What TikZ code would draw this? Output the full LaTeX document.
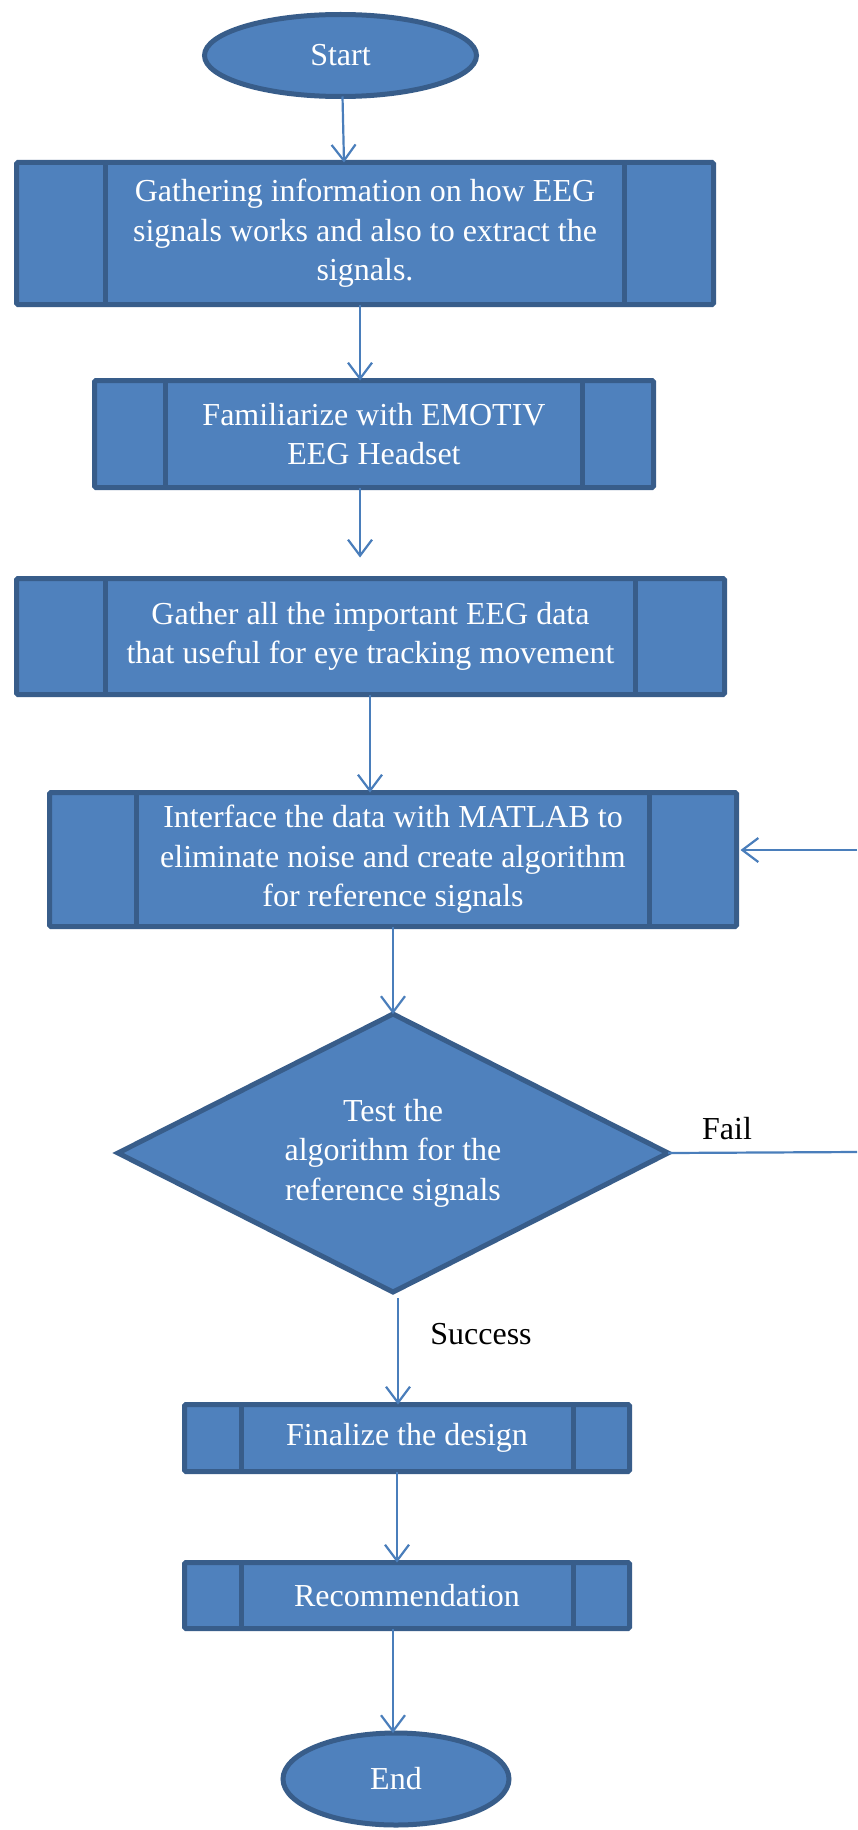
\documentclass[tikz,border=0pt]{standalone}
\usepackage{fontspec}
\setmainfont{Liberation Serif}
\usetikzlibrary{shapes.geometric,arrows.meta}
\definecolor{boxfill}{HTML}{4F81BD}
\definecolor{boxline}{HTML}{385D8A}
\definecolor{flowline}{HTML}{4A7EBB}
\tikzset{
  border/.style={draw=boxline, line width=5pt},
  procbox/.style={border, fill=boxfill, rectangle, rounded corners=1.5pt, outer sep=0pt,
    inner sep=0pt, align=center, text=white, font=\fontsize{32}{39.5}\selectfont},
  termbox/.style={border, fill=boxfill, ellipse, outer sep=0pt, inner sep=0pt,
    text=white, font=\fontsize{32}{39.5}\selectfont},
  decbox/.style={border, fill=boxfill, diamond, aspect=1.95, outer sep=0pt, inner sep=0pt,
    align=center, text=white, font=\fontsize{32}{39.5}\selectfont},
  flow/.style={draw=flowline, line width=2.2pt,
    -{Straight Barb[length=16pt, width=24pt, line width=2.2pt]}},
  plainflow/.style={draw=flowline, line width=2.2pt},
  tag/.style={text=black, font=\fontsize{32}{39.5}\selectfont}
}
% inner vertical bars of a predefined-process box
\newcommand\sidebars[2]{%
  \draw[border] ([xshift=#2]#1.north west) -- ([xshift=#2]#1.south west)
                ([xshift=-#2]#1.north east) -- ([xshift=-#2]#1.south east);}
\begin{document}
\begin{tikzpicture}[x=1pt,y=-1pt]
\useasboundingbox[fill=white] (0,0) rectangle (857,1830);

\node[termbox, minimum width=272, minimum height=82] (start) at (340.5,55.5) {Start};

\node[procbox, minimum width=697, minimum height=142] (b1) at (365,233.5)
  {Gathering information on how EEG\\signals works and also to extract the\\signals.};
\sidebars{b1}{89}

\node[procbox, minimum width=559, minimum height=107] (b2) at (374,434)
  {Familiarize with EMOTIV\\EEG Headset};
\sidebars{b2}{71}

\node[procbox, minimum width=708, minimum height=116] (b3) at (370.5,636.5)
  {Gather all the important EEG data\\that useful for eye tracking movement};
\sidebars{b3}{89}

\node[procbox, minimum width=687, minimum height=134] (b4) at (393,859.5)
  {Interface the data with MATLAB to\\eliminate noise and create algorithm\\for reference signals};
\sidebars{b4}{87}

\node[decbox, minimum width=550, minimum height=278] (dec) at (393,1153)
  {Test the\\algorithm for the\\reference signals};

\node[procbox, minimum width=445, minimum height=67] (b5) at (407,1438)
  {Finalize the design};
\sidebars{b5}{56.5}

\node[procbox, minimum width=445, minimum height=66] (b6) at (407,1595.5)
  {Recommendation};
\sidebars{b6}{56.5}

\node[termbox, minimum width=226, minimum height=92] (end) at (396,1779) {End};

\node[tag] (fail) at (727,1129) {Fail};
\node[tag] (succ) at (481,1334) {Success};

\coordinate (failout) at (857,1152);
\coordinate (loopin) at (857,850);

\draw[flow] ([xshift=2]start.south) -- ([xshift=-21]b1.north);
\draw[flow] ([xshift=-5]b1.south) -- ([xshift=-14]b2.north);
\draw[flow] ([xshift=-14]b2.south) -- ([xshift=-10.5,yshift=21]b3.north);
\draw[flow] ([xshift=-0.5]b3.south) -- ([xshift=-23]b4.north);
\draw[flow] (b4.south) -- (dec.north);
\draw[flow] ([xshift=5,yshift=-6]dec.south) -- ([xshift=-9]b5.north);
\draw[flow] ([xshift=-10]b5.south) -- ([xshift=-10]b6.north);
\draw[flow] ([xshift=-14]b6.south) -- ([xshift=-3]end.north);
\draw[plainflow] (dec.east) -- (failout);
\draw[flow] (loopin) -- ([xshift=4,yshift=9.5]b4.east);
\end{tikzpicture}
\end{document}
